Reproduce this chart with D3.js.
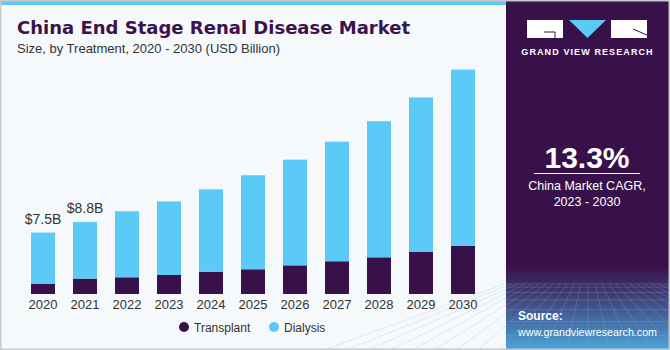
<!DOCTYPE html>
<html>
<head>
<meta charset="utf-8">
<script src="https://cdn.jsdelivr.net/npm/d3@7"></script>
<style>
  body { margin: 0; }
  svg { display: block; font-family: "Liberation Sans", Arial, sans-serif; }
</style>
</head>
<body>
<svg width="670" height="350"></svg>
<script>
const years = ['2020', '2021', '2022', '2023', '2024', '2025', '2026', '2027', '2028', '2029', '2030'];
const transplant = [1.22, 1.88, 2.04, 2.32, 2.69, 3.02, 3.5, 4.0, 4.48, 5.13, 5.86];
const dialysis = [6.28, 6.92, 8.06, 8.98, 10.09, 11.48, 12.9, 14.6, 16.62, 18.87, 21.54];
const totalLabels = ['$7.5B', '$8.8B'];
const seriesNames = ['Transplant', 'Dialysis'];

const purple = '#39114a';
const blue = '#5bcaf6';

const svg = d3.select('svg');

// background + top stripe
svg.append('rect').attr('width', 670).attr('height', 350).attr('fill', '#f5f9fc');
svg.append('rect').attr('x', 0).attr('y', 0).attr('width', 506).attr('height', 5).attr('fill', blue);

// right panel
const defs = svg.append('defs');
const grad = defs.append('linearGradient').attr('id', 'pg').attr('x1', 0).attr('y1', 0).attr('x2', 0).attr('y2', 1);
grad.append('stop').attr('offset', '0').attr('stop-color', '#39114a');
grad.append('stop').attr('offset', '0.76').attr('stop-color', '#39114a');
grad.append('stop').attr('offset', '0.84').attr('stop-color', '#3f3b72');
grad.append('stop').attr('offset', '1').attr('stop-color', '#4aa6dc');
svg.append('rect').attr('x', 506).attr('y', 0).attr('width', 164).attr('height', 350).attr('fill', 'url(#pg)');

// faint grid at panel bottom
const grid = svg.append('g').attr('stroke', '#8fb6e0').attr('stroke-opacity', 0.35).attr('stroke-width', 0.7);
d3.range(0, 8).forEach(i => {
  const gy = 284 + i * i * 1.1 + i * 2;
  grid.append('line').attr('x1', 506).attr('x2', 670).attr('y1', gy).attr('y2', gy);
});
d3.range(-12, 13).forEach(i => {
  grid.append('line').attr('x1', 588 + i * 7).attr('y1', 284).attr('x2', 588 + i * 22).attr('y2', 350);
});

// logo
const logo = svg.append('g');
logo.append('rect').attr('x', 527).attr('y', 20).attr('width', 36).attr('height', 18).attr('fill', '#fff');
logo.append('path').attr('d', 'M544,32 H555 V38').attr('fill', 'none').attr('stroke', purple).attr('stroke-width', 1);
logo.append('path').attr('d', 'M569,20 H606 L587.5,38 Z').attr('fill', blue);
logo.append('rect').attr('x', 611).attr('y', 20).attr('width', 36).attr('height', 18).attr('fill', '#fff');
logo.append('path').attr('d', 'M633,29 L647,35').attr('stroke', purple).attr('stroke-width', 1);
svg.append('text').attr('x', 587.5).attr('y', 55).attr('text-anchor', 'middle')
  .attr('fill', '#fff').attr('font-size', 9).attr('font-weight', 'bold').attr('letter-spacing', 1.1)
  .text('GRAND VIEW RESEARCH');

// CAGR
svg.append('text').attr('x', 587).attr('y', 168).attr('text-anchor', 'middle')
  .attr('fill', '#fff').attr('font-size', 30).attr('font-weight', 'bold').text('13.3%');
svg.append('line').attr('x1', 534).attr('x2', 640).attr('y1', 173.5).attr('y2', 173.5)
  .attr('stroke', '#fff').attr('stroke-width', 1);
svg.append('text').attr('x', 587).attr('y', 190).attr('text-anchor', 'middle')
  .attr('fill', '#fff').attr('font-size', 12.5).text('China Market CAGR,');
svg.append('text').attr('x', 587).attr('y', 206).attr('text-anchor', 'middle')
  .attr('fill', '#fff').attr('font-size', 12.5).text('2023 - 2030');

// source
svg.append('text').attr('x', 518).attr('y', 320).attr('fill', '#fff')
  .attr('font-size', 12).attr('font-weight', 'bold').text('Source:');
svg.append('text').attr('x', 518).attr('y', 336).attr('fill', '#fff')
  .attr('font-size', 11.5).attr('textLength', 139).attr('lengthAdjust', 'spacingAndGlyphs')
  .text('www.grandviewresearch.com');

// titles
svg.append('text').attr('x', 17).attr('y', 34).attr('fill', '#3b1249')
  .attr('font-family', '"DejaVu Sans", sans-serif')
  .attr('font-size', 18.5).attr('font-weight', 'bold')
  .attr('textLength', 393).attr('lengthAdjust', 'spacingAndGlyphs')
  .text('China End Stage Renal Disease Market');
svg.append('text').attr('x', 17).attr('y', 53).attr('fill', '#333')
  .attr('font-size', 13).text('Size, by Treatment, 2020 - 2030 (USD Billion)');

// chart
const x = d3.scaleBand().domain(years).range([22, 484]).paddingInner(0.4286).paddingOuter(0.2143);
const y = d3.scaleLinear().domain([0, 30]).range([294, 48.3]);

const rows = years.map((yr, i) => ({ year: yr, Transplant: transplant[i], Dialysis: dialysis[i] }));
const stacked = d3.stack().keys(seriesNames)(rows);
const color = d3.scaleOrdinal().domain(seriesNames).range([purple, blue]);

svg.append('g').selectAll('g').data(stacked).join('g')
  .attr('fill', d => color(d.key))
  .selectAll('rect').data(d => d).join('rect')
  .attr('x', d => x(d.data.year))
  .attr('y', d => y(d[1]))
  .attr('width', x.bandwidth())
  .attr('height', d => y(d[0]) - y(d[1]));

const xAxis = svg.append('g').attr('transform', 'translate(0,294)')
  .call(d3.axisBottom(x).tickSize(0).tickPadding(6));
xAxis.select('.domain').remove();
xAxis.selectAll('text').attr('font-size', 13).attr('fill', '#333')
  .attr('font-family', '"Liberation Sans", Arial, sans-serif');

svg.append('g').selectAll('text').data(totalLabels).join('text')
  .attr('x', (d, i) => x(years[i]) + x.bandwidth() / 2)
  .attr('y', (d, i) => y(transplant[i] + dialysis[i]) - 9)
  .attr('text-anchor', 'middle').attr('font-size', 14).attr('fill', '#333')
  .text(d => d);

// legend
const legend = svg.append('g').selectAll('g').data(seriesNames).join('g')
  .attr('transform', (d, i) => `translate(${184 + i * 90},327)`);
legend.append('circle').attr('r', 5).attr('fill', d => color(d));
legend.append('text').attr('x', 10).attr('y', 4.5).attr('font-size', 12).attr('fill', '#333').text(d => d);

// outer border
svg.append('rect').attr('x', 0.75).attr('y', 0.75).attr('width', 668.5).attr('height', 348.5)
  .attr('fill', 'none').attr('stroke', '#c8c8c8').attr('stroke-width', 1.5);
</script>
</body>
</html>
